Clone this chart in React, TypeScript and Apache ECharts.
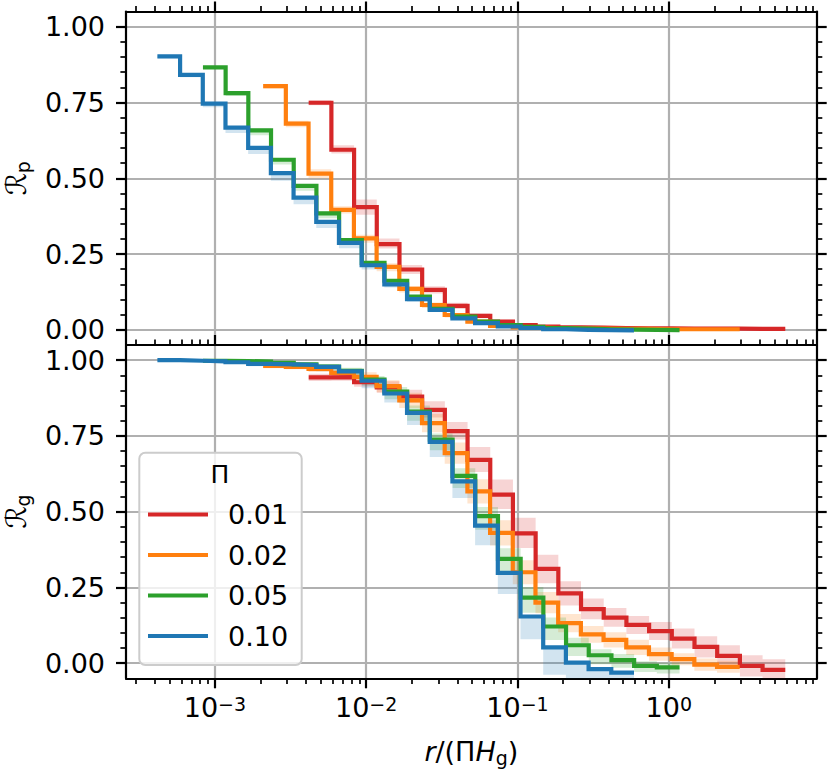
import React, { useEffect, useRef } from "react";
import * as echarts from "echarts";

// ---------------- data ----------------
const PI_VALUES = [0.01, 0.02, 0.05, 0.1];
const LEGEND_LABELS = ["0.01", "0.02", "0.05", "0.10"];
const COLORS = ["#d62728", "#ff7f0e", "#2ca02c", "#1f77b4"];

// bin edges in log10(r / H_g); x = r/(Pi H_g)
const LOG_R_EDGES = [
  -4.38, -4.23, -4.08, -3.93, -3.78, -3.63, -3.48, -3.33, -3.18, -3.03, -2.88,
  -2.73, -2.58, -2.43, -2.28, -2.13, -1.98, -1.83, -1.68, -1.53, -1.38, -1.23,
];

const X_MIN = 2.585e-4;
const X_MAX = 9.5;
const Y_MIN = -0.05;
const Y_MAX = 1.05;
const X_MAJOR_TICKS = [1e-3, 1e-2, 1e-1, 1];
const X_MINOR_TICKS = [
  3e-4, 4e-4, 5e-4, 6e-4, 7e-4, 8e-4, 9e-4,
  2e-3, 3e-3, 4e-3, 5e-3, 6e-3, 7e-3, 8e-3, 9e-3,
  2e-2, 3e-2, 4e-2, 5e-2, 6e-2, 7e-2, 8e-2, 9e-2,
  0.2, 0.3, 0.4, 0.5, 0.6, 0.7, 0.8, 0.9,
  2, 3, 4, 5, 6, 7, 8, 9,
];
const Y_MAJOR_TICKS = [0, 0.25, 0.5, 0.75, 1];
const Y_MINOR_TICKS = [
  0.05, 0.1, 0.15, 0.2, 0.3, 0.35, 0.4, 0.45, 0.55, 0.6, 0.65, 0.7, 0.8, 0.85, 0.9, 0.95,
];

// top panel: R_p
const RP_001 = [0.749, 0.594, 0.405, 0.283, 0.199, 0.132, 0.079, 0.046, 0.027, 0.016, 0.011, 0.008, 0.007, 0.006, 0.005, 0.005, 0.004, 0.004, 0.004, 0.003, 0.003];
const RP_002 = [0.804, 0.68, 0.515, 0.396, 0.302, 0.208, 0.135, 0.082, 0.049, 0.027, 0.013, 0.008, 0.006, 0.005, 0.004, 0.003, 0.003, 0.002, 0.002, 0.002, 0.002];
const RP_005 = [0.866, 0.781, 0.658, 0.561, 0.475, 0.384, 0.296, 0.221, 0.162, 0.11, 0.069, 0.044, 0.027, 0.016, 0.01, 0.006, 0.004, 0.002, 0.001, 0.0, -0.001];
const RP_010 = [0.902, 0.841, 0.746, 0.667, 0.6, 0.517, 0.436, 0.356, 0.287, 0.213, 0.15, 0.101, 0.066, 0.038, 0.022, 0.011, 0.006, 0.002, 0.0, -0.001, -0.002];

const RP_LO_001 = [0.008, 0.012, 0.025, 0.015, 0.015, 0.012, 0.01, 0.008, 0.006, 0.005, 0.004, 0.003, 0.003, 0.003, 0.003, 0.003, 0.003, 0.003, 0.003, 0.003, 0.003];
const RP_HI_001 = [0.008, 0.015, 0.025, 0.018, 0.015, 0.012, 0.01, 0.008, 0.006, 0.005, 0.004, 0.003, 0.003, 0.003, 0.003, 0.003, 0.003, 0.003, 0.003, 0.003, 0.003];
const RP_LO_002 = [0.008, 0.012, 0.015, 0.012, 0.015, 0.015, 0.012, 0.01, 0.008, 0.006, 0.004, 0.003, 0.003, 0.003, 0.003, 0.003, 0.003, 0.003, 0.003, 0.003, 0.003];
const RP_HI_002 = [0.006, 0.01, 0.015, 0.012, 0.012, 0.012, 0.01, 0.008, 0.006, 0.005, 0.004, 0.003, 0.003, 0.003, 0.003, 0.003, 0.003, 0.003, 0.003, 0.003, 0.003];
const RP_LO_005 = [0.006, 0.01, 0.016, 0.016, 0.016, 0.016, 0.014, 0.012, 0.01, 0.008, 0.006, 0.004, 0.003, 0.003, 0.002, 0.002, 0.002, 0.002, 0.002, 0.002, 0.002];
const RP_HI_005 = [0.004, 0.006, 0.006, 0.006, 0.006, 0.006, 0.006, 0.005, 0.004, 0.004, 0.003, 0.003, 0.002, 0.002, 0.002, 0.002, 0.002, 0.002, 0.002, 0.002, 0.002];
const RP_LO_010 = [0.006, 0.008, 0.012, 0.018, 0.02, 0.025, 0.022, 0.02, 0.018, 0.014, 0.01, 0.008, 0.006, 0.004, 0.003, 0.003, 0.003, 0.003, 0.003, 0.003, 0.003];
const RP_HI_010 = [0.003, 0.003, 0.003, 0.003, 0.003, 0.003, 0.003, 0.003, 0.003, 0.003, 0.003, 0.002, 0.002, 0.002, 0.002, 0.002, 0.002, 0.002, 0.002, 0.002, 0.002];

// bottom panel: R_g
const RG_001 = [0.943, 0.944, 0.927, 0.91, 0.88, 0.836, 0.766, 0.671, 0.556, 0.428, 0.311, 0.23, 0.178, 0.15, 0.126, 0.106, 0.081, 0.054, 0.024, -0.009, -0.022];
const RG_002 = [0.981, 0.978, 0.971, 0.958, 0.945, 0.914, 0.867, 0.792, 0.693, 0.567, 0.43, 0.3, 0.2, 0.132, 0.095, 0.077, 0.052, 0.03, 0.013, -0.005, -0.012];
const RG_005 = [0.998, 0.997, 0.995, 0.991, 0.986, 0.979, 0.965, 0.936, 0.896, 0.83, 0.738, 0.618, 0.485, 0.344, 0.216, 0.121, 0.059, 0.026, 0.01, -0.009, -0.014];
const RG_010 = [1.0, 0.998, 0.996, 0.993, 0.988, 0.986, 0.984, 0.978, 0.963, 0.932, 0.89, 0.826, 0.73, 0.6, 0.454, 0.298, 0.154, 0.052, 0.002, -0.02, -0.031];

const RG_LO_001 = [0.012, 0.012, 0.015, 0.018, 0.02, 0.025, 0.028, 0.04, 0.047, 0.048, 0.047, 0.04, 0.033, 0.03, 0.03, 0.03, 0.033, 0.035, 0.035, 0.035, 0.035];
const RG_HI_001 = [0.012, 0.012, 0.015, 0.02, 0.022, 0.028, 0.03, 0.042, 0.05, 0.052, 0.047, 0.04, 0.035, 0.032, 0.03, 0.03, 0.033, 0.035, 0.035, 0.035, 0.035];
const RG_LO_002 = [0.008, 0.008, 0.01, 0.012, 0.015, 0.02, 0.025, 0.03, 0.035, 0.04, 0.042, 0.04, 0.035, 0.03, 0.028, 0.025, 0.025, 0.022, 0.02, 0.02, 0.02];
const RG_HI_002 = [0.008, 0.008, 0.01, 0.012, 0.015, 0.02, 0.025, 0.03, 0.035, 0.04, 0.042, 0.04, 0.035, 0.03, 0.028, 0.025, 0.025, 0.022, 0.02, 0.02, 0.02];
const RG_LO_005 = [0.005, 0.005, 0.006, 0.008, 0.01, 0.012, 0.015, 0.02, 0.025, 0.03, 0.035, 0.04, 0.045, 0.05, 0.05, 0.045, 0.035, 0.03, 0.025, 0.02, 0.02];
const RG_HI_005 = [0.003, 0.003, 0.004, 0.005, 0.006, 0.008, 0.01, 0.012, 0.015, 0.02, 0.02, 0.025, 0.03, 0.035, 0.035, 0.03, 0.025, 0.02, 0.02, 0.015, 0.015];
const RG_LO_010 = [0.003, 0.004, 0.005, 0.006, 0.008, 0.01, 0.012, 0.015, 0.02, 0.025, 0.03, 0.04, 0.05, 0.055, 0.065, 0.07, 0.075, 0.09, 0.07, 0.06, 0.05];
const RG_HI_010 = [0.002, 0.002, 0.003, 0.003, 0.004, 0.004, 0.005, 0.005, 0.005, 0.005, 0.005, 0.005, 0.004, 0.002, 0.001, 0.001, 0.001, 0.001, 0.002, 0.002, 0.002];

const RP = [RP_001, RP_002, RP_005, RP_010];
const RP_LO = [RP_LO_001, RP_LO_002, RP_LO_005, RP_LO_010];
const RP_HI = [RP_HI_001, RP_HI_002, RP_HI_005, RP_HI_010];
const RG = [RG_001, RG_002, RG_005, RG_010];
const RG_LO = [RG_LO_001, RG_LO_002, RG_LO_005, RG_LO_010];
const RG_HI = [RG_HI_001, RG_HI_002, RG_HI_005, RG_HI_010];

// ---------------- styling ----------------
const FONT = "DejaVu Sans";
const GRID_COLOR = "#b0b0b0";
const SPINE = 2.2;
const MAJOR_LEN = 10;
const MINOR_LEN = 5.6;

function buildOption() {
  const grids = [
    { left: 126, right: 12.3, top: 11.5, height: 333.5, outerBoundsMode: "none" },
    { left: 126, right: 12.3, top: 345, height: 333.3, outerBoundsMode: "none" },
  ];

  const baseX = (gridIndex: number, position: string) => ({
    type: "log",
    logBase: 10,
    gridIndex,
    position,
    min: X_MIN,
    max: X_MAX,
    offset: 0,
    silent: true,
    axisPointer: { show: false },
    nameMoveOverlap: false,
  });

  const majorX = (gridIndex: number, position: string, withLabels: boolean, withSplit: boolean) => ({
    ...baseX(gridIndex, position),
    axisLine: { show: true, onZero: false, lineStyle: { color: "#000", width: SPINE } },
    axisTick: { show: true, inside: false, length: MAJOR_LEN, customValues: X_MAJOR_TICKS, lineStyle: { color: "#000", width: SPINE } },
    axisLabel: withLabels
      ? {
          show: true,
          customValues: X_MAJOR_TICKS,
          margin: 16,
          color: "#000",
          formatter: (v: number) => {
            const e = Math.round(Math.log10(v));
            const s = e < 0 ? "\u2212" + String(-e) : String(e);
            return "{b|10}{s|" + s + "}";
          },
          rich: {
            b: { fontSize: 27, fontFamily: FONT, color: "#000", lineHeight: 27, verticalAlign: "bottom" },
            s: { fontSize: 19, fontFamily: FONT, color: "#000", lineHeight: 19, padding: [0, 0, 12, 0], verticalAlign: "top" },
          },
        }
      : { show: false },
    splitLine: withSplit ? { show: true, lineStyle: { color: GRID_COLOR, width: SPINE } } : { show: false },
    minorTick: { show: false },
  });

  const minorX = (gridIndex: number, position: string) => ({
    ...baseX(gridIndex, position),
    axisLine: { show: false, onZero: false },
    axisTick: { show: true, inside: false, length: MINOR_LEN, customValues: X_MINOR_TICKS, lineStyle: { color: "#000", width: 1.7 } },
    axisLabel: { show: false },
    splitLine: { show: false },
  });

  const xAxes: any[] = [
    majorX(0, "top", false, true), // 0 data axis for top panel
    minorX(0, "top"), // 1
    {
      ...majorX(1, "bottom", true, true), // 2 data axis for bottom panel
      name: "{i|r}{n|/(\u03A0}{i|H}{sub|g}{n|)}",
      nameLocation: "middle",
      nameGap: 60,
      nameTextStyle: {
        rich: {
          i: { fontSize: 27, fontFamily: FONT, fontStyle: "italic", color: "#000", lineHeight: 27, verticalAlign: "top" },
          n: { fontSize: 27, fontFamily: FONT, color: "#000", lineHeight: 27, verticalAlign: "top" },
          sub: { fontSize: 19, fontFamily: FONT, color: "#000", lineHeight: 19, padding: [10, 0, 0, 0], verticalAlign: "top" },
        },
      },
    },
    minorX(1, "bottom"), // 3
    majorX(1, "top", false, false), // 4
    minorX(1, "top"), // 5
  ];

  const baseY = (gridIndex: number, position: string) => ({
    type: "value",
    gridIndex,
    position,
    min: Y_MIN,
    max: Y_MAX,
    offset: 0,
    silent: true,
    axisPointer: { show: false },
    nameMoveOverlap: false,
  });

  const majorY = (gridIndex: number, position: string, left: boolean, sub: string) => ({
    ...baseY(gridIndex, position),
    axisLine: { show: true, onZero: false, lineStyle: { color: "#000", width: SPINE } },
    axisTick: { show: true, inside: false, length: MAJOR_LEN, customValues: Y_MAJOR_TICKS, lineStyle: { color: "#000", width: SPINE } },
    axisLabel: left
      ? {
          show: true,
          customValues: Y_MAJOR_TICKS,
          margin: 21,
          color: "#000",
          fontSize: 27,
          fontFamily: FONT,
          formatter: (v: number) => v.toFixed(2),
        }
      : { show: false },
    splitLine: left ? { show: true, lineStyle: { color: GRID_COLOR, width: SPINE } } : { show: false },
    minorTick: { show: false },
    ...(left
      ? {
          name: "{r|\u211B}{s|" + sub + "}",
          nameLocation: "middle",
          nameRotate: 90,
          nameGap: 96,
          nameTextStyle: {
            rich: {
              r: { fontSize: 28, fontFamily: FONT, color: "#000", lineHeight: 28, verticalAlign: "top" },
              s: { fontSize: 19, fontFamily: FONT, color: "#000", lineHeight: 19, padding: [11, 0, 0, 0], verticalAlign: "top" },
            },
          },
        }
      : {}),
  });

  const minorY = (gridIndex: number, position: string) => ({
    ...baseY(gridIndex, position),
    axisLine: { show: false, onZero: false },
    axisTick: { show: true, inside: false, length: MINOR_LEN, customValues: Y_MINOR_TICKS, lineStyle: { color: "#000", width: 1.7 } },
    axisLabel: { show: false },
    splitLine: { show: false },
  });

  const yAxes: any[] = [
    majorY(0, "left", true, "p"), // 0
    minorY(0, "left"), // 1
    majorY(0, "right", false, ""), // 2
    minorY(0, "right"), // 3
    majorY(1, "left", true, "g"), // 4
    minorY(1, "left"), // 5
    majorY(1, "right", false, ""), // 6
    minorY(1, "right"), // 7
  ];

  const panels = [
    { vals: RP, lo: RP_LO, hi: RP_HI, xAxisIndex: 0, yAxisIndex: 0 },
    { vals: RG, lo: RG_LO, hi: RG_HI, xAxisIndex: 2, yAxisIndex: 4 },
  ];

  const bandSeries: any[] = [];
  const lineSeries: any[] = [];

  panels.forEach((panel, p) => {
    PI_VALUES.forEach((pi, i) => {
      const edges = LOG_R_EDGES.map((e) => Math.pow(10, e) / pi);
      const vals = panel.vals[i];
      const lo = panel.lo[i];
      const hi = panel.hi[i];
      const n = vals.length;
      const color = COLORS[i];

      const bandData = vals.map((v, k) => [edges[k], edges[k + 1], v - lo[k], v + hi[k]]);
      bandSeries.push({
        type: "custom",
        name: "band-" + p + "-" + LEGEND_LABELS[i],
        xAxisIndex: panel.xAxisIndex,
        yAxisIndex: panel.yAxisIndex,
        clip: true,
        silent: true,
        z: 2,
        encode: { x: [0, 1], y: [2, 3] },
        data: bandData,
        renderItem: (params: any, api: any) => {
          if (params.dataIndex !== 0) return null;
          const pts: number[][] = [];
          for (let k = 0; k < n; k++) {
            pts.push(api.coord([bandData[k][0], bandData[k][3]]));
            pts.push(api.coord([bandData[k][1], bandData[k][3]]));
          }
          for (let k = n - 1; k >= 0; k--) {
            pts.push(api.coord([bandData[k][1], bandData[k][2]]));
            pts.push(api.coord([bandData[k][0], bandData[k][2]]));
          }
          return {
            type: "polygon",
            shape: { points: pts },
            style: { fill: color, opacity: 0.2 },
          };
        },
      });

      const lineData = edges.map((e, k) => [e, vals[Math.min(k, n - 1)]]);
      lineSeries.push({
        type: "line",
        name: LEGEND_LABELS[i],
        xAxisIndex: panel.xAxisIndex,
        yAxisIndex: panel.yAxisIndex,
        step: "end",
        showSymbol: false,
        symbol: "none",
        silent: true,
        z: 3,
        clip: true,
        emphasis: { disabled: true },
        itemStyle: { color },
        lineStyle: { color, width: 4.2, join: "miter", cap: "butt" },
        data: lineData,
      });
    });
  });

  return {
    animation: false,
    backgroundColor: "#ffffff",
    textStyle: { fontFamily: FONT },
    grid: grids,
    xAxis: xAxes,
    yAxis: yAxes,
    legend: {
      show: true,
      orient: "vertical",
      left: 148,
      top: 501,
      padding: 0,
      z: 20,
      itemWidth: 60,
      itemHeight: 4,
      itemGap: 13.5,
      icon: "rect",
      selectedMode: false,
      data: LEGEND_LABELS.map((name, i) => ({ name, itemStyle: { color: COLORS[i] } })),
      formatter: (name: string) => "{g|}{t|" + name + "}",
      textStyle: {
        rich: {
          g: { width: 15 },
          t: { fontSize: 27, fontFamily: FONT, color: "#000", lineHeight: 30 },
        },
      },
    },
    graphic: {
      elements: [
        {
          type: "rect",
          z: 10,
          silent: true,
          shape: { x: 139.3, y: 452.7, width: 162.4, height: 212.3, r: 6 },
          style: { fill: "rgba(255,255,255,0.8)", stroke: "#cccccc", lineWidth: 2 },
        },
        {
          type: "text",
          z: 11,
          silent: true,
          x: 220,
          y: 474,
          style: {
            text: "\u03A0",
            fontSize: 25,
            fontFamily: FONT,
            fill: "#000",
            align: "center",
            verticalAlign: "middle",
          },
        },
      ],
    },
    series: [...bandSeries, ...lineSeries],
  };
}

export default function App() {
  const ref = useRef<HTMLDivElement>(null);
  useEffect(() => {
    if (!ref.current) return;
    const chart = echarts.init(ref.current, undefined, { renderer: "svg" });
    chart.setOption(buildOption() as any);
    return () => {
      chart.dispose();
    };
  }, []);
  return (
    <div
      ref={ref}
      style={{ position: "fixed", left: 0, top: 0, width: 829, height: 776, background: "#fff" }}
    />
  );
}
